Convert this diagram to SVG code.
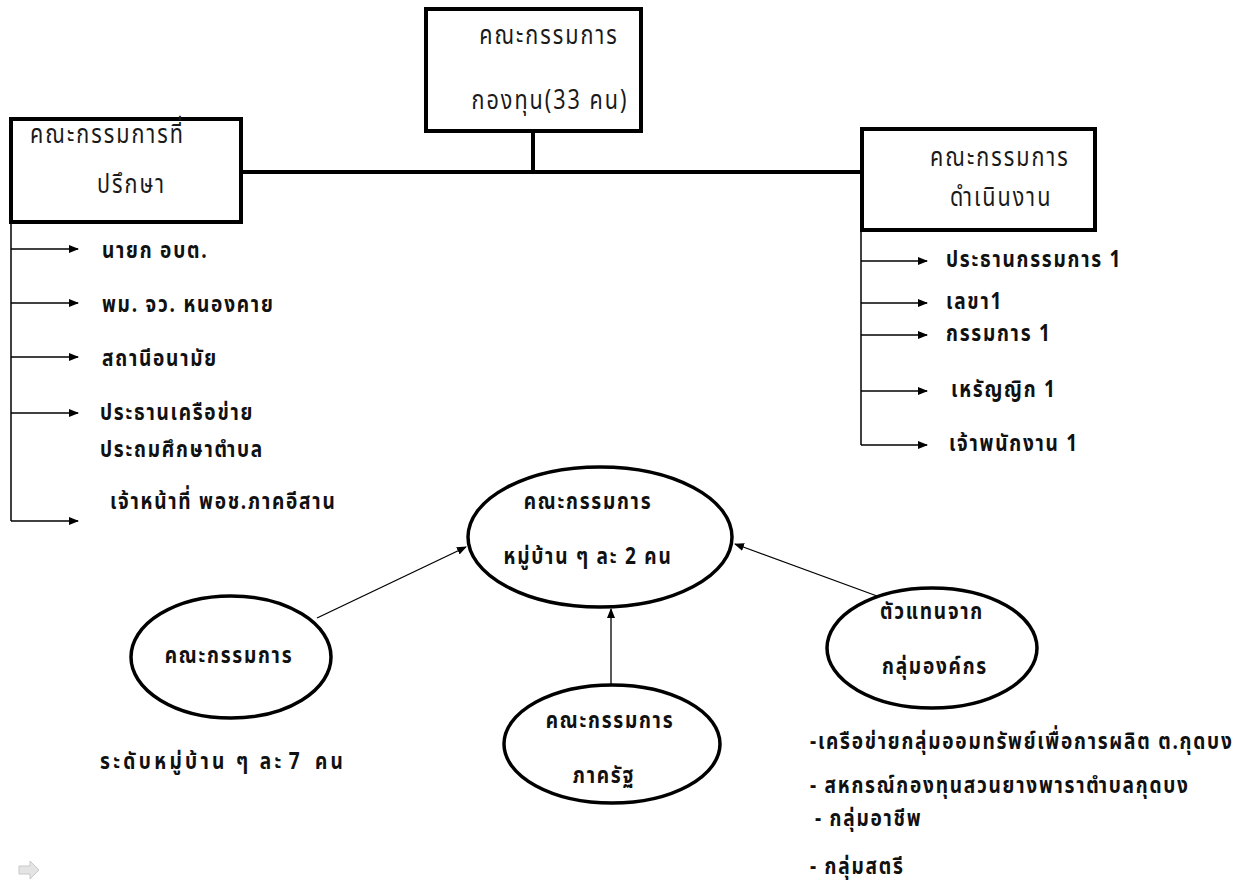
<svg xmlns="http://www.w3.org/2000/svg" width="1240" height="887" viewBox="0 0 1240 887">
<style>
.box{fill:#fff;stroke:#000;stroke-width:4}
.ell{fill:#fff;stroke:#000;stroke-width:3.5}
.bt{font-family:"Noto Sans Thai","Liberation Sans","DejaVu Sans",sans-serif;font-size:27px;letter-spacing:2.5px;fill:#1a1a1a}
.lb{font-family:"Noto Sans Thai","Liberation Sans","DejaVu Sans",sans-serif;font-size:23px;letter-spacing:2.1px;font-weight:bold;fill:#111}
.mid{text-anchor:middle}
.thick{stroke:#000;stroke-width:4;fill:none}
.thin{stroke:#000;stroke-width:1.5;fill:none}
.arr{stroke:#000;stroke-width:1.3;fill:none;marker-end:url(#ah)}
</style>
<defs>
<marker id="ah" markerWidth="10" markerHeight="8" refX="9" refY="4" orient="auto" markerUnits="userSpaceOnUse">
<path d="M0,0 L10,4 L0,8 Z" fill="#000"/>
</marker>
</defs>
<rect width="1240" height="887" fill="#fff"/>
<g id="connectors">
<line class="thick" x1="241" y1="172" x2="862" y2="172"/>
<line class="thick" x1="533" y1="131" x2="533" y2="172"/>
<line class="thin" x1="11" y1="222" x2="11" y2="521"/>
<line class="arr" x1="11" y1="249" x2="78" y2="249"/>
<line class="arr" x1="11" y1="303" x2="78" y2="303"/>
<line class="arr" x1="11" y1="357" x2="78" y2="357"/>
<line class="arr" x1="11" y1="413" x2="78" y2="413"/>
<line class="arr" x1="11" y1="521" x2="78" y2="521"/>
<line class="thin" x1="861" y1="230" x2="861" y2="445"/>
<line class="arr" x1="861" y1="261" x2="927" y2="261"/>
<line class="arr" x1="861" y1="303" x2="927" y2="303"/>
<line class="arr" x1="861" y1="335" x2="927" y2="335"/>
<line class="arr" x1="861" y1="391" x2="927" y2="391"/>
<line class="arr" x1="861" y1="445" x2="927" y2="445"/>
<line class="arr" x1="317" y1="618" x2="466" y2="547"/>
<line class="arr" x1="611" y1="685" x2="611" y2="609"/>
<line class="arr" x1="877" y1="596" x2="735" y2="544"/>
</g>
<g id="top">
<rect class="box" x="426" y="9" width="215" height="122"/>
<text class="bt mid" transform="translate(549,44) scale(0.8,1)">คณะกรรมการ</text>
<text class="bt mid" transform="translate(550,109) scale(0.8,1)">กองทุน(33 คน)</text>
</g>
<g id="advisors">
<rect class="box" x="11" y="119" width="230" height="103"/>
<text class="bt" transform="translate(30,143) scale(0.8,1)">คณะกรรมการที่</text>
<text class="bt" transform="translate(97,193) scale(0.8,1)">ปรึกษา</text>
</g>
<g id="operations">
<rect class="box" x="862" y="129" width="233" height="101"/>
<text class="bt" transform="translate(930,166) scale(0.8,1)">คณะกรรมการ</text>
<text class="bt" transform="translate(950,206) scale(0.8,1)">ดำเนินงาน</text>
</g>
<g id="advisor-list">
<text class="lb" transform="translate(102,258) scale(0.83,1)">นายก อบต.</text>
<text class="lb" transform="translate(102,312) scale(0.83,1)">พม. จว. หนองคาย</text>
<text class="lb" transform="translate(102,366) scale(0.83,1)">สถานีอนามัย</text>
<text class="lb" transform="translate(100,420) scale(0.83,1)">ประธานเครือข่าย</text>
<text class="lb" transform="translate(100,457) scale(0.83,1)">ประถมศึกษาตำบล</text>
<text class="lb" transform="translate(110,509) scale(0.83,1)">เจ้าหน้าที่ พอช.ภาคอีสาน</text>
</g>
<g id="ops-list">
<text class="lb" transform="translate(946,267) scale(0.83,1)">ประธานกรรมการ 1</text>
<text class="lb" transform="translate(946,309) scale(0.83,1)">เลขา1</text>
<text class="lb" transform="translate(946,341) scale(0.83,1)">กรรมการ 1</text>
<text class="lb" transform="translate(951,397) scale(0.83,1)">เหรัญญิก 1</text>
<text class="lb" transform="translate(949,451) scale(0.83,1)">เจ้าพนักงาน 1</text>
</g>
<g id="village">
<ellipse class="ell" cx="600" cy="537" rx="132" ry="70"/>
<text class="lb mid" transform="translate(588,509) scale(0.83,1)">คณะกรรมการ</text>
<text class="lb mid" transform="translate(588,564) scale(0.83,1)">หมู่บ้าน ๆ ละ 2 คน</text>
</g>
<g id="village-committee">
<ellipse class="ell" cx="231" cy="657" rx="100" ry="61"/>
<text class="lb mid" transform="translate(229,663) scale(0.83,1)">คณะกรรมการ</text>
<text class="lb" transform="translate(100,769) scale(0.83,1)" style="letter-spacing:4px">ระดับหมู่บ้าน ๆ ละ<tspan x="236" text-anchor="middle">7</tspan><tspan x="259">คน</tspan></text>
</g>
<g id="state">
<ellipse class="ell" cx="612" cy="744" rx="108" ry="59"/>
<text class="lb mid" transform="translate(610,728) scale(0.83,1)">คณะกรรมการ</text>
<text class="lb mid" transform="translate(604,783) scale(0.83,1)">ภาครัฐ</text>
</g>
<g id="org">
<ellipse class="ell" cx="932" cy="648" rx="105" ry="60"/>
<text class="lb mid" transform="translate(932,619) scale(0.83,1)">ตัวแทนจาก</text>
<text class="lb mid" transform="translate(935,674) scale(0.83,1)">กลุ่มองค์กร</text>
<text class="lb" transform="translate(810,749) scale(0.83,1)">-เครือข่ายกลุ่มออมทรัพย์เพื่อการผลิต ต.กุดบง</text>
<text class="lb" transform="translate(810,793) scale(0.83,1)">- สหกรณ์กองทุนสวนยางพาราตำบลกุดบง</text>
<text class="lb" transform="translate(815,826) scale(0.83,1)">- กลุ่มอาชีพ</text>
<text class="lb" transform="translate(810,874) scale(0.83,1)">- กลุ่มสตรี</text>
</g>
<g id="icon">
<path d="M19,866 L30,866 L30,861 L39,870 L30,879 L30,874 L19,874 Z" fill="#e4e4e4" stroke="#c8c8c8" stroke-width="1"/>
</g>
</svg>
